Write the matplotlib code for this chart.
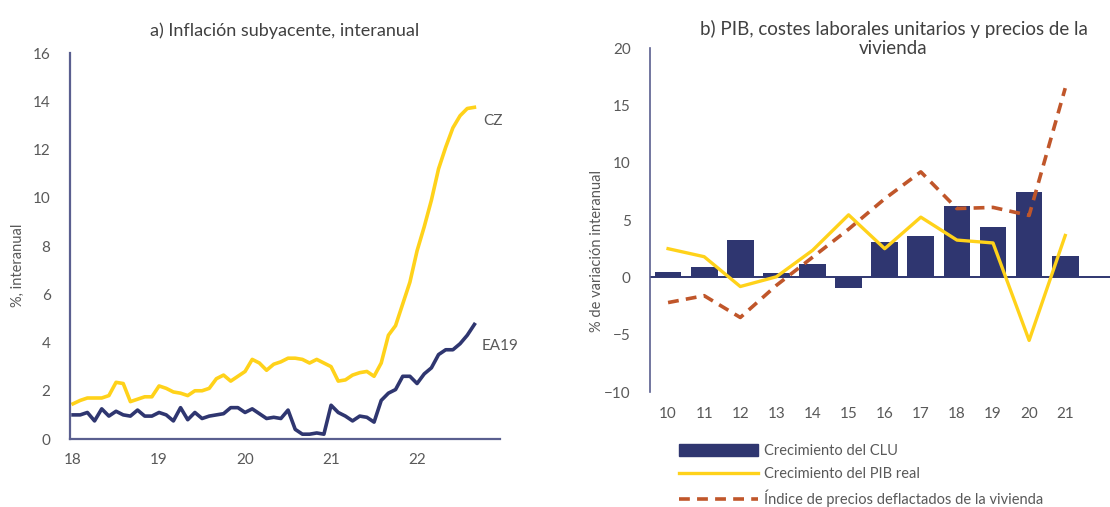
import numpy as np
import matplotlib
matplotlib.use("Agg")
import matplotlib.pyplot as plt
from matplotlib.patches import Patch
from matplotlib.lines import Line2D

plt.rcParams["font.family"] = ["Lato", "DejaVu Sans"]

# panel a: monthly core inflation, Jan 2018 - Sep 2022
cz = [1.46, 1.6, 1.7, 1.7, 1.7, 1.8, 2.35, 2.3, 1.55, 1.65, 1.75, 1.75,
      2.2, 2.1, 1.95, 1.9, 1.8, 2.0, 2.0, 2.1, 2.5, 2.65, 2.4, 2.6,
      2.8, 3.3, 3.15, 2.85, 3.1, 3.2, 3.35, 3.35, 3.3, 3.15, 3.3, 3.15,
      3.0, 2.4, 2.45, 2.65, 2.75, 2.8, 2.6, 3.15, 4.3, 4.7, 5.6, 6.5,
      7.8, 8.8, 9.9, 11.2, 12.1, 12.9, 13.4, 13.7, 13.75]
ea19 = [1.0, 1.0, 1.1, 0.75, 1.25, 0.95, 1.15, 1.0, 0.95, 1.2, 0.95, 0.95,
        1.1, 1.0, 0.75, 1.3, 0.8, 1.1, 0.85, 0.95, 1.0, 1.05, 1.3, 1.3,
        1.1, 1.25, 1.05, 0.85, 0.9, 0.85, 1.2, 0.4, 0.2, 0.2, 0.25, 0.2,
        1.4, 1.1, 0.95, 0.75, 0.95, 0.9, 0.7, 1.6, 1.9, 2.05, 2.6, 2.6,
        2.3, 2.7, 2.95, 3.5, 3.7, 3.7, 3.95, 4.3, 4.75]
year_ticks = [18, 19, 20, 21, 22]

# panel b: annual data 2010-2021
years_b = ["10", "11", "12", "13", "14", "15", "16", "17", "18", "19", "20", "21"]
clu = [0.45, 0.9, 3.3, 0.35, 1.2, -0.9, 3.05, 3.6, 6.2, 4.4, 7.4, 1.85]
pib = [2.5, 1.8, -0.8, 0.05, 2.35, 5.45, 2.5, 5.25, 3.25, 3.0, -5.5, 3.65]
vivienda = [-2.2, -1.6, -3.5, -0.7, 1.75, 4.2, 6.85, 9.2, 6.0, 6.1, 5.4, 16.5]

navy = "#2f3670"
yellow = "#ffd21a"
brown = "#c0562a"
grey = "#595959"
axis_col = "#5a5f8f"

fig = plt.figure(figsize=(11.1, 5.07), dpi=100)

# ---- panel a
ax1 = fig.add_axes([0.0631, 0.1341, 0.3874, 0.7613])
t = 18 + np.arange(len(cz)) / 12
ax1.plot(t, cz, color=yellow, lw=2.6)
ax1.plot(t, ea19, color=navy, lw=2.6)
ax1.set_xlim(17.965, 22.965)
ax1.set_ylim(0, 16)
ax1.set_yticks(range(0, 17, 2))
ax1.set_xticks(year_ticks)
ax1.set_xticklabels([str(y) for y in year_ticks])
ax1.tick_params(length=0, labelsize=11, colors=grey, pad=10)
ax1.tick_params(axis="y", pad=14)
for s in ["top", "right"]:
    ax1.spines[s].set_visible(False)
for s in ["left", "bottom"]:
    ax1.spines[s].set_color(axis_col)
    ax1.spines[s].set_linewidth(1.6)
ax1.set_ylabel("%, interanual", fontsize=10.5, color=grey)
ax1.yaxis.set_label_coords(-0.105, 0.45)
ax1.set_title("a) Inflación subyacente, interanual", fontsize=13,
              color="#404040", pad=12)
ax1.text(t[-1] + 0.1, cz[-1] - 0.55, "CZ", fontsize=11, color=grey, va="center")
ax1.text(t[-1] + 0.08, ea19[-1] - 0.9, "EA19", fontsize=11, color=grey, va="center")

# ---- panel b
ax2 = fig.add_axes([0.5856, 0.2268, 0.4144, 0.6785])
xb = np.arange(len(years_b))
ax2.bar(xb, clu, width=0.74, color=navy, zorder=2)
ax2.plot(xb, pib, color=yellow, lw=2.4, zorder=3)
ax2.plot(xb, vivienda, color=brown, lw=2.6, ls=(0, (3, 2)), zorder=4)
ax2.axhline(0, color=navy, lw=1.4, zorder=2.5)
ax2.set_xlim(-0.5, 12.24)
ax2.set_ylim(-10, 20)
ax2.set_yticks(range(-10, 21, 5))
ax2.set_xticks(xb)
ax2.set_xticklabels(years_b)
ax2.tick_params(length=0, labelsize=11, colors=grey)
ax2.tick_params(axis="x", pad=11)
ax2.tick_params(axis="y", pad=14)
for s in ["top", "right", "bottom"]:
    ax2.spines[s].set_visible(False)
ax2.spines["left"].set_color(axis_col)
ax2.spines["left"].set_linewidth(1.2)
ax2.set_ylabel("% de variación interanual", fontsize=10.5, color=grey)
ax2.yaxis.set_label_coords(-0.10, 0.41)
fig.text(0.805, 0.925, "b) PIB, costes laborales unitarios y precios de la\nvivienda",
         ha="center", va="center", fontsize=13.5, color="#404040", linespacing=1.15)

handles = [Patch(facecolor=navy, edgecolor=navy),
           Line2D([], [], color=yellow, lw=2.4),
           Line2D([], [], color=brown, lw=2.6, ls=(0, (3, 2)))]
labels = ["Crecimiento del CLU", "Crecimiento del PIB real",
          "Índice de precios deflactados de la vivienda"]
fig.legend(handles, labels, loc="upper left", bbox_to_anchor=(0.612, 0.124),
           frameon=False, fontsize=10.5, labelcolor=grey, handlelength=5.4,
           handleheight=0.9, labelspacing=0.6, handletextpad=0.4, borderaxespad=0,
           borderpad=0)

fig.savefig("out.png", dpi=100)
